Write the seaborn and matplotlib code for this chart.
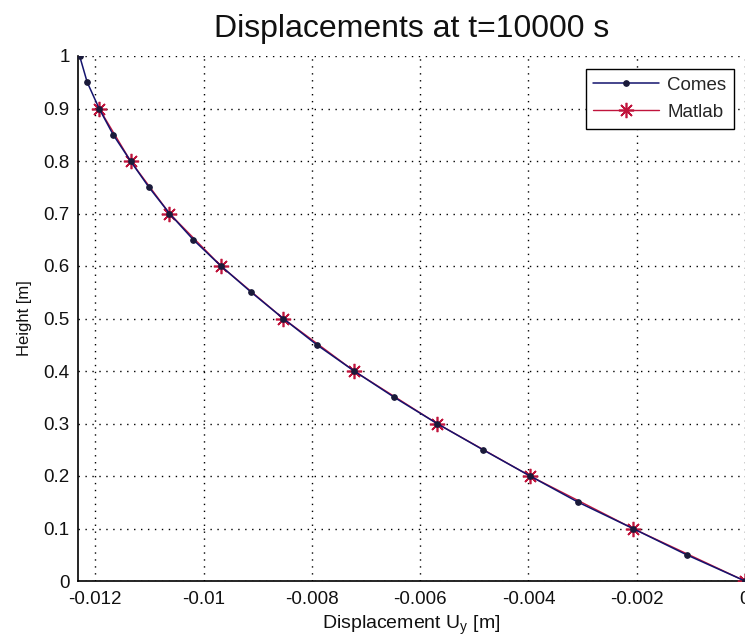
import matplotlib
matplotlib.use("Agg")
import matplotlib.pyplot as plt
import seaborn as sns
import pandas as pd

# ---- data ----
comes_height = [1.00, 0.95, 0.90, 0.85, 0.80, 0.75, 0.70, 0.65, 0.60, 0.55, 0.50,
                0.45, 0.40, 0.35, 0.30, 0.25, 0.20, 0.15, 0.10, 0.05, 0.00]
comes_disp = [-0.01229, -0.01215, -0.01193, -0.01167, -0.01135, -0.01101, -0.01063,
              -0.01019, -0.00968, -0.00912, -0.00853, -0.00791, -0.00722, -0.00648,
              -0.00569, -0.00484, -0.00397, -0.00308, -0.00207, -0.00108, 0.0]
matlab_height = [0.90, 0.80, 0.70, 0.60, 0.50, 0.40, 0.30, 0.20, 0.10, 0.00]
matlab_disp = [-0.01193, -0.01135, -0.01063, -0.00968, -0.00853, -0.00722,
               -0.00569, -0.00397, -0.00207, 0.0]

x_ticks = [-0.012, -0.010, -0.008, -0.006, -0.004, -0.002, 0.0]
x_tick_labels = ["-0.012", "-0.01", "-0.008", "-0.006", "-0.004", "-0.002", "0"]
y_ticks = [0.0, 0.1, 0.2, 0.3, 0.4, 0.5, 0.6, 0.7, 0.8, 0.9, 1.0]
y_tick_labels = ["0", "0.1", "0.2", "0.3", "0.4", "0.5", "0.6", "0.7", "0.8", "0.9", "1"]

title = "Displacements at t=10000 s"
xlabel = "Displacement U$_\\mathregular{y}$ [m]"
ylabel = "Height [m]"

# ---- style ----
sns.set_style("white")
plt.rcParams["font.family"] = ["Liberation Sans", "DejaVu Sans"]
plt.rcParams["mathtext.fontset"] = "custom"
plt.rcParams["mathtext.rm"] = "Liberation Sans"

fig = plt.figure(figsize=(7.45, 6.44), dpi=100)
ax = fig.add_axes([78 / 745, 1 - 581 / 644, 667 / 745, 525 / 644])

df_comes = pd.DataFrame({"disp": comes_disp, "height": comes_height})
df_matlab = pd.DataFrame({"disp": matlab_disp, "height": matlab_height})

navy = "#14146e"
crimson = "#c0143c"

sns.lineplot(data=df_matlab, x="disp", y="height", sort=False, estimator=None,
             color=crimson, linewidth=1.0, marker=(8, 2, 0), markersize=11,
             markeredgecolor=crimson, markeredgewidth=1.2, label="Matlab",
             ax=ax, zorder=3)
sns.lineplot(data=df_comes, x="disp", y="height", sort=False, estimator=None,
             color=navy, linewidth=1.1, marker="o", markersize=4,
             markeredgecolor="#1a1a3a", markerfacecolor="#1a1a3a",
             markeredgewidth=0.8, label="Comes", ax=ax, zorder=4)

ax.set_xlim(-0.01232, 0.0)
ax.set_ylim(0.0, 1.0)
ax.set_xticks(x_ticks)
ax.set_xticklabels(x_tick_labels)
ax.set_yticks(y_ticks)
ax.set_yticklabels(y_tick_labels)

ax.grid(True, color="black", linestyle=(0, (1, 4)), linewidth=1.0, zorder=1)
ax.set_axisbelow(True)

for side in ["top", "right"]:
    ax.spines[side].set_visible(False)
for side in ["left", "bottom"]:
    ax.spines[side].set_color("black")
    ax.spines[side].set_linewidth(1.2)

ax.tick_params(axis="both", direction="in", length=5, width=1, colors="black",
               labelsize=13.5, labelcolor="#111111")
ax.tick_params(axis="x", pad=7)
ax.tick_params(axis="y", pad=6)

ax.set_title(title, fontsize=23, pad=14, color="#111111")
ax.set_xlabel(xlabel, fontsize=14, labelpad=4, color="#111111")
ax.set_ylabel(ylabel, fontsize=12, labelpad=8, color="#111111")

# legend: Comes first, Matlab second
handles, labels = ax.get_legend_handles_labels()
order = [labels.index("Comes"), labels.index("Matlab")]
leg = ax.legend([handles[i] for i in order], [labels[i] for i in order],
                loc="upper right", bbox_to_anchor=(0.9835, 0.9753),
                borderaxespad=0, fontsize=13.5, frameon=True, fancybox=False,
                edgecolor="black", framealpha=1, handlelength=3.5,
                handletextpad=0.45, borderpad=0.4, labelspacing=0.55)
leg.get_frame().set_linewidth(1.0)

fig.savefig("out.png", dpi=100, facecolor="white")
